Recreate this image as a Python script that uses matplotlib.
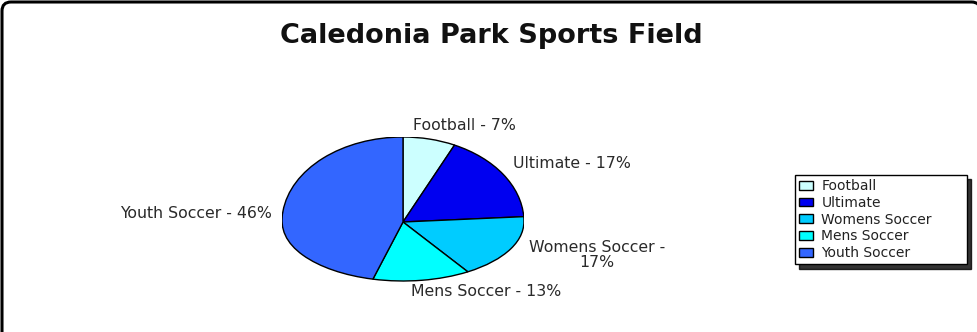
import matplotlib
matplotlib.use("Agg")
import matplotlib.pyplot as plt
from matplotlib.patches import PathPatch
from matplotlib.path import Path

plt.rcParams['font.family'] = ['DejaVu Sans']

title = "Caledonia Park Sports Field"
categories = ["Football", "Ultimate", "Womens Soccer", "Mens Soccer", "Youth Soccer"]
values = [7, 17, 17, 13, 46]
pie_labels = ["Football - 7%", "Ultimate - 17%", "Womens Soccer -\n17%",
              "Mens Soccer - 13%", "Youth Soccer - 46%"]
colors = ["#CCFFFF", "#0000F0", "#00CCFF", "#00FFFF", "#3366FF"]

W, H = 978, 332
fig = plt.figure(figsize=(W / 100, H / 100), dpi=100)
fig.patch.set_facecolor("white")

def fx(px):
    return px / W

def fy(py):
    return 1 - py / H

# outer rounded border (only left, top and top-right corner visible)
bg = fig.add_axes([0, 0, 1, 1])
bg.set_xlim(0, W)
bg.set_ylim(H, 0)
bg.axis("off")
L, T, R, B, rr = 2, 2, 980.5, 400, 9
border = Path([(L, B), (L, T + rr), (L, T), (L + rr, T), (R - rr, T), (R, T), (R, T + rr), (R, B)],
              [Path.MOVETO, Path.LINETO, Path.CURVE3, Path.CURVE3, Path.LINETO,
               Path.CURVE3, Path.CURVE3, Path.LINETO])
bg.add_patch(PathPatch(border, fill=False, ec="black", lw=2.2))

# pie axes: ellipse center at (403, 222), rx 121, upper ry 85, lower ry 59
cx, cy, rx, ry_up, ry_dn = 403, 222, 121, 85, 59
ax = fig.add_axes([fx(cx - rx), fy(cy + ry_up), 2 * rx / W, 2 * ry_up / H])
wedges, _ = ax.pie(values, colors=colors, startangle=90, counterclock=False,
                   wedgeprops=dict(edgecolor="black", linewidth=1.0))
ax.set_aspect("auto")
ax.set_xlim(-1, 1)
ax.set_ylim(-1, 1)
ax.axis("off")

# squash the lower half of the pie
k = ry_dn / ry_up
handles = []
for w in wedges:
    p = w.get_path()
    v = p.vertices.copy()
    v[:, 1] = [y * k if y < 0 else y for y in v[:, 1]]
    pp = PathPatch(Path(v, p.codes), fc=w.get_facecolor(), ec="black", lw=1.0)
    w.remove()
    ax.add_patch(pp)
    handles.append(pp)

# title
fig.text(fx(491), fy(36), title, ha="center", va="center", fontsize=19.5,
         fontweight="bold", color="#111111")

# labels
lab_pos = [(464, 125), (572, 164), (597, 255), (486, 291), (196, 214)]
for (x, y), t in zip(lab_pos, pie_labels):
    fig.text(fx(x), fy(y), t, ha="center", va="center", fontsize=11.3, color="#2a2a2a",
             linespacing=0.95)

# legend
leg = fig.legend(handles, categories, loc="upper left", mode="expand",
                 bbox_to_anchor=(fx(795), fy(263), (967 - 795) / W, (263 - 175) / H),
                 borderaxespad=0,
                 frameon=True, fancybox=False,
                 shadow={"color": "black", "alpha": 0.8, "ox": 3, "oy": -3},
                 fontsize=10,
                 handlelength=1.0, handleheight=0.6, handletextpad=0.6,
                 labelspacing=0.2, borderpad=0.3)
leg.get_frame().set_edgecolor("black")
leg.get_frame().set_linewidth(1.0)
for t in leg.get_texts():
    t.set_color("#222222")

fig.savefig("out.png", dpi=100, facecolor="white")
